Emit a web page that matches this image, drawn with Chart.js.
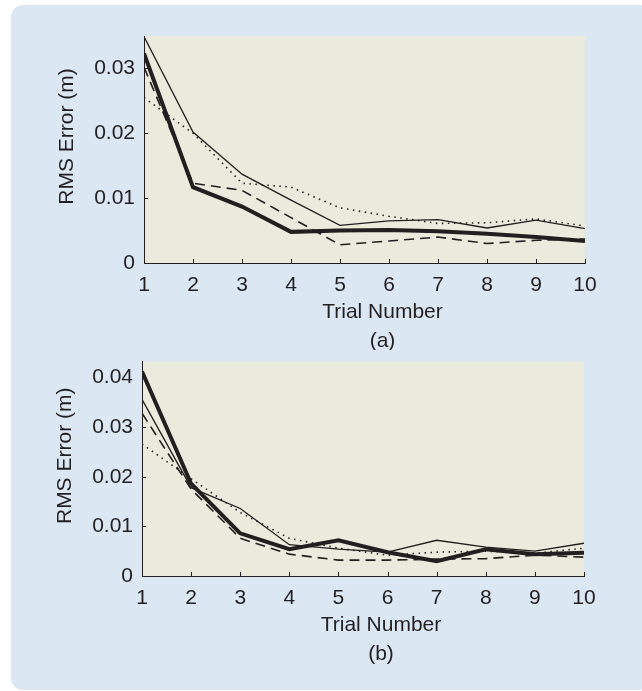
<!DOCTYPE html>
<html>
<head>
<meta charset="utf-8">
<script src="https://cdn.jsdelivr.net/npm/chart.js@4.4.0/dist/chart.umd.min.js"></script>
<style>
  html, body { margin: 0; padding: 0; background: #ffffff; }
  body { width: 642px; height: 691px; position: relative; overflow: hidden; }
  #panel {
    position: absolute; left: 11px; top: 5px; width: 640px; height: 685px;
    background: #dce7f4; border-radius: 12px;
  }
  canvas { position: absolute; left: 0; }
  #chartA { top: 0; }
  #chartB { top: 340px; }
</style>
</head>
<body>
<div id="panel"></div>
<canvas id="chartA" width="642" height="350"></canvas>
<canvas id="chartB" width="642" height="350"></canvas>
<script>
// trial numbers on the x axis
const trials = [1, 2, 3, 4, 5, 6, 7, 8, 9, 10];

// panel (a)
const thinA   = [0.0349, 0.0202, 0.0137, 0.0097, 0.0058, 0.0065, 0.0067, 0.0054, 0.0066, 0.0053];
const thickA  = [0.0323, 0.0117, 0.0087, 0.0048, 0.0050, 0.0051, 0.0049, 0.0045, 0.0040, 0.0034];
const dashedA = [0.0302, 0.0123, 0.0112, 0.0070, 0.0028, 0.0034, 0.0040, 0.0030, 0.0035, 0.0037];
const dottedA = [0.0255, 0.0200, 0.0123, 0.0117, 0.0085, 0.0072, 0.0061, 0.0062, 0.0068, 0.0057];
const yTicksA = [0, 0.01, 0.02, 0.03];

// panel (b)
const thinB   = [0.0356, 0.0178, 0.0136, 0.0063, 0.0054, 0.0048, 0.0072, 0.0058, 0.0050, 0.0066];
const thickB  = [0.0412, 0.0186, 0.0086, 0.0054, 0.0072, 0.0048, 0.0030, 0.0054, 0.0044, 0.0047];
const dashedB = [0.0328, 0.0175, 0.0076, 0.0044, 0.0032, 0.0032, 0.0034, 0.0035, 0.0042, 0.0038];
const dottedB = [0.0266, 0.0196, 0.0128, 0.0076, 0.0056, 0.0042, 0.0048, 0.0050, 0.0046, 0.0056];
const yTicksB = [0, 0.01, 0.02, 0.03, 0.04];

const INK = '#231f20';
const FONT = '"Liberation Sans", Arial, Helvetica, sans-serif';
const FONT_SIZE = 21;

function pts(values) {
  return values.map((v, i) => ({ x: trials[i], y: v }));
}

function makeDatasets(thin, thick, dashed, dotted) {
  return [
    { data: pts(thin),   borderColor: INK, borderWidth: 1.3 },
    { data: pts(dashed), borderColor: INK, borderWidth: 1.6, borderDash: [10, 6] },
    { data: pts(dotted), borderColor: INK, borderWidth: 1.6, borderDash: [1.5, 4.5] },
    { data: pts(thick),  borderColor: INK, borderWidth: 4 }
  ];
}

// beige plot background, inward tick marks, axis captions
const plotDecor = {
  id: 'plotDecor',
  beforeDraw(chart) {
    const { ctx, chartArea: a } = chart;
    ctx.save();
    ctx.fillStyle = '#ebebdd';
    ctx.fillRect(a.left, a.top, a.right - a.left, a.bottom - a.top);
    ctx.restore();
  },
  afterDraw(chart, args, opts) {
    const { ctx, chartArea: a, scales } = chart;
    ctx.save();
    ctx.strokeStyle = INK;
    ctx.lineWidth = 1;
    ctx.beginPath();
    scales.x.ticks.forEach(t => {
      const px = Math.round(scales.x.getPixelForValue(t.value)) + 0.5;
      ctx.moveTo(px, a.bottom);
      ctx.lineTo(px, a.bottom - 4);
    });
    scales.y.ticks.forEach(t => {
      const py = Math.round(scales.y.getPixelForValue(t.value)) + 0.5;
      ctx.moveTo(a.left, py);
      ctx.lineTo(a.left + 4, py);
    });
    ctx.stroke();

    // captions (MATLAB export sits them a little off-centre)
    ctx.fillStyle = INK;
    ctx.font = FONT_SIZE + 'px ' + FONT;
    ctx.textAlign = 'center';
    ctx.textBaseline = 'alphabetic';
    const cx = (a.left + a.right) / 2 + 18;
    ctx.fillText('Trial Number', cx, a.bottom + 55);
    ctx.fillText(opts.caption, cx, a.bottom + 84);

    ctx.translate(a.left - 71, (a.top + a.bottom) / 2 - 13);
    ctx.rotate(-Math.PI / 2);
    ctx.fillText('RMS Error (m)', 0, 0);
    ctx.restore();
  }
};

function makeChart(id, cfg) {
  const canvas = document.getElementById(id);
  return new Chart(canvas.getContext('2d'), {
    type: 'line',
    data: { datasets: cfg.datasets },
    options: {
      responsive: false,
      animation: false,
      layout: { padding: { top: cfg.padTop, right: cfg.padRight, left: 0, bottom: 0 } },
      elements: { point: { radius: 0 }, line: { tension: 0, fill: false } },
      plugins: {
        legend: { display: false },
        tooltip: { enabled: false },
        plotDecor: { caption: cfg.caption }
      },
      scales: {
        x: {
          type: 'linear', min: 1, max: 10,
          grid: { display: false, drawTicks: false },
          border: { display: true, color: INK, width: 1 },
          ticks: { stepSize: 1, padding: 10, color: INK, font: { family: FONT, size: FONT_SIZE } },
          afterFit(scale) { scale.height = cfg.xHeight; }
        },
        y: {
          type: 'linear', min: 0, max: cfg.yMax,
          grid: { display: false, drawTicks: false },
          border: { display: true, color: INK, width: 1 },
          ticks: {
            padding: 9, color: INK, font: { family: FONT, size: FONT_SIZE },
            callback: v => (v === 0 ? '0' : v.toFixed(2))
          },
          afterBuildTicks(scale) { scale.ticks = cfg.yTicks.map(v => ({ value: v })); },
          afterFit(scale) { scale.width = cfg.yWidth; }
        }
      }
    },
    plugins: [plotDecor]
  });
}

makeChart('chartA', {
  datasets: makeDatasets(thinA, thickA, dashedA, dottedA),
  yTicks: yTicksA, yMax: 0.035, caption: '(a)',
  padTop: 36, padRight: 57, yWidth: 144, xHeight: 87
});

makeChart('chartB', {
  datasets: makeDatasets(thinB, thickB, dashedB, dottedB),
  yTicks: yTicksB, yMax: 0.0432, caption: '(b)',
  padTop: 20, padRight: 58, yWidth: 142, xHeight: 114
});
</script>
</body>
</html>
